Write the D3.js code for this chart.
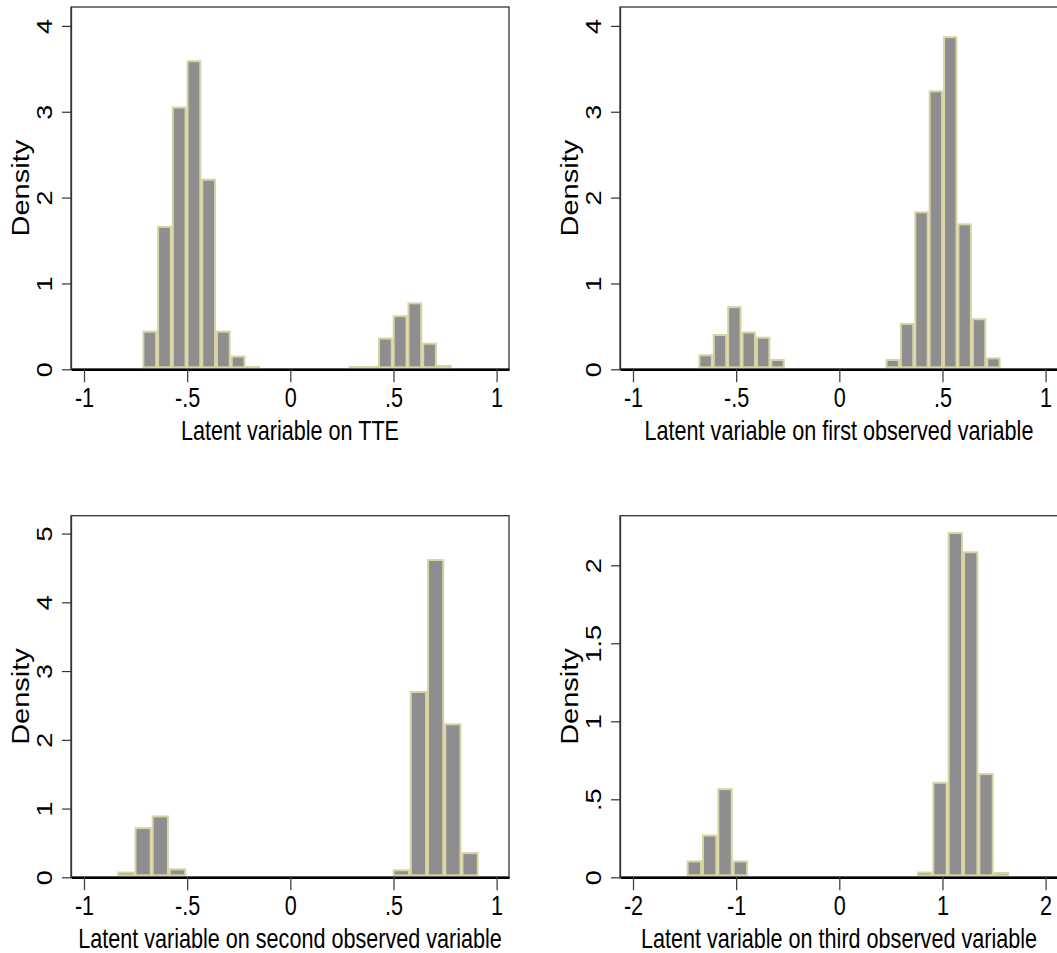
<!DOCTYPE html>
<html>
<head>
<meta charset="utf-8">
<script src="https://cdn.jsdelivr.net/npm/d3@7"></script>
<style>
body{margin:0;background:#fff}
svg{display:block}
</style>
</head>
<body>
<script>
//直方图数据（每个bin的密度）
const tteDensity=[0.45,1.67,3.06,3.60,2.22,0.45,0.16,0.02,0,0,0,0,0,0,0.01,0.01,0.37,0.63,0.78,0.31,0.05];
const tteRange=[-0.717,0.782];
const firstDensity=[0.175,0.41,0.735,0.44,0.38,0.12,0,0,0,0,0,0,0,0.12,0.54,1.84,3.25,3.88,1.70,0.595,0.14];
const firstRange=[-0.683,0.782];
const secondDensity=[0.083,0.73,0.90,0.13,0,0,0,0,0,0,0,0,0,0,0,0,0.117,2.71,4.63,2.24,0.366];
const secondRange=[-0.8385,0.913];
const thirdDensity=[0.108,0.274,0.571,0.108,0,0,0,0,0,0,0,0,0,0,0,0.037,0.612,2.213,2.09,0.668,0.034];
const thirdRange=[-1.48,1.646];

//刻度
const xTicksA=[-1,-0.5,0,0.5,1];
const xLabelsA=["-1","-.5","0",".5","1"];
const xTicksB=[-2,-1,0,1,2];
const xLabelsB=["-2","-1","0","1","2"];
const yTicks4=[0,1,2,3,4];
const yLabels4=["0","1","2","3","4"];
const yTicks5=[0,1,2,3,4,5];
const yLabels5=["0","1","2","3","4","5"];
const yTicksHalf=[0,0.5,1,1.5,2];
const yLabelsHalf=["0",".5","1","1.5","2"];

const titles=["Latent variable on TTE","Latent variable on first observed variable",
  "Latent variable on second observed variable","Latent variable on third observed variable"];

//画布
let width=1057,height=953;
let svg=d3.select("body").append("svg").attr("width",width).attr("height",height);

let sx=0.8; //文字横向压缩
let font='"Liberation Sans", Arial, sans-serif';
let pw=438;

let panels=[
  {data:tteDensity,range:tteRange,left:71,top:7,bottom:369.3,xDom:[-1.063,1.06],yMax:4.22,
   xt:xTicksA,xl:xLabelsA,yt:yTicks4,yl:yLabels4,title:titles[0]},
  {data:firstDensity,range:firstRange,left:620,top:7,bottom:369.3,xDom:[-1.063,1.06],yMax:4.22,
   xt:xTicksA,xl:xLabelsA,yt:yTicks4,yl:yLabels4,title:titles[1]},
  {data:secondDensity,range:secondRange,left:71,top:515.7,bottom:877.3,xDom:[-1.063,1.06],yMax:5.26,
   xt:xTicksA,xl:xLabelsA,yt:yTicks5,yl:yLabels5,title:titles[2]},
  {data:thirdDensity,range:thirdRange,left:620,top:515.7,bottom:877.3,xDom:[-2.126,2.12],yMax:2.318,
   xt:xTicksB,xl:xLabelsB,yt:yTicksHalf,yl:yLabelsHalf,title:titles[3]}
];

panels.forEach(function(p){
  let x=d3.scaleLinear().domain(p.xDom).range([p.left,p.left+pw]);
  let y=d3.scaleLinear().domain([0,p.yMax]).range([p.bottom,p.top]);
  let g=svg.append("g");

  //边框
  g.append("rect")
    .attr("x",p.left).attr("y",p.top)
    .attr("width",pw).attr("height",p.bottom-p.top)
    .attr("fill","none").attr("stroke","#333").attr("stroke-width",1.3);

  //bins
  let n=p.data.length;
  let step=(p.range[1]-p.range[0])/n;
  let bins=p.data.map(function(v,i){
    return {x0:p.range[0]+i*step,x1:p.range[0]+(i+1)*step,v:v};
  }).filter(function(d){return d.v>0;});

  let top=function(d){return Math.min(y(d.v)+1,y(0)-2.3);};
  g.selectAll("rect.bar").data(bins).enter().append("rect")
    .attr("class","bar")
    .attr("x",function(d){return x(d.x0)+1;})
    .attr("width",function(d){return x(d.x1)-x(d.x0)-2;})
    .attr("y",top)
    .attr("height",function(d){return Math.max(0.3,y(0)-2-top(d));})
    .attr("fill","#8e8e8e")
    .attr("stroke","#d7d4a4")
    .attr("stroke-width",2);

  //x轴
  let xa=g.append("g").attr("transform","translate(0,"+p.bottom+")")
    .call(d3.axisBottom(x).tickValues(p.xt).tickFormat(function(d,i){return p.xl[i];})
      .tickSize(13).tickSizeOuter(0));
  xa.select(".domain").attr("stroke","#000").attr("stroke-width",2.4);
  xa.selectAll(".tick line").attr("stroke","#444").attr("stroke-width",1.3);
  xa.selectAll(".tick text")
    .attr("y",38).attr("dy",null)
    .attr("transform","scale("+sx+",1)")
    .style("font-family",font).style("font-size","27px").attr("fill","#000");

  //y轴
  let ya=g.append("g").attr("transform","translate("+p.left+",0)")
    .call(d3.axisLeft(y).tickValues(p.yt).tickFormat(function(d,i){return p.yl[i];})
      .tickSize(9).tickSizeOuter(0));
  ya.select(".domain").attr("stroke","#333").attr("stroke-width",1.3);
  ya.selectAll(".tick line").attr("stroke","#333").attr("stroke-width",1.2);
  ya.selectAll(".tick text")
    .attr("x",null).attr("dy",null)
    .attr("text-anchor","middle")
    .attr("transform","translate(-19,0) scale("+sx+",1) rotate(-90)")
    .style("font-family",font).style("font-size","27px").attr("fill","#000");

  //标题
  g.append("text")
    .attr("transform","translate("+(p.left+pw/2)+","+(p.bottom+70.7)+") scale("+sx+",1)")
    .attr("text-anchor","middle")
    .style("font-family",font).style("font-size","27px")
    .text(p.title);
  g.append("text")
    .attr("transform","translate("+(p.left-41.7)+","+((p.top+p.bottom)/2)+") scale("+sx+",1) rotate(-90)")
    .attr("text-anchor","middle")
    .style("font-family",font).style("font-size","29px")
    .text("Density");
});
</script>
</body>
</html>
